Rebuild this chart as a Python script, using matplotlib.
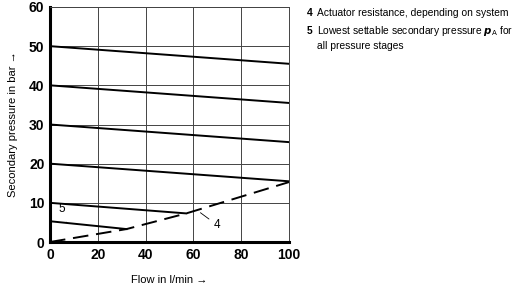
import matplotlib.pyplot as plt

# pressure stage characteristics (flow -> secondary pressure)
flow_full = [0, 100]
stage_50 = [50, 45.5]
stage_40 = [40, 35.5]
stage_30 = [30, 25.5]
stage_20 = [20, 15.5]
flow_10 = [0, 57]
stage_10 = [10, 7.3]
flow_5 = [0, 32]
stage_5 = [5.3, 3.3]

# curve 4: actuator resistance
flow_4 = [0, 32, 57, 100]
press_4 = [0, 3.3, 7.3, 15.3]

xticks = [0, 20, 40, 60, 80, 100]
yticks = [0, 10, 20, 30, 40, 50, 60]

plt.rcParams['font.family'] = ['Liberation Sans', 'DejaVu Sans']

fig = plt.figure(figsize=(5.21, 2.91), dpi=100)
ax = fig.add_axes([50/521, 1-242/291, 239/521, 235/291])

for ys, xs in [(stage_50, flow_full), (stage_40, flow_full), (stage_30, flow_full),
               (stage_20, flow_full), (stage_10, flow_10), (stage_5, flow_5)]:
    ax.plot(xs, ys, color='black', lw=1.4, zorder=3)
ax.plot(flow_4, press_4, color='black', lw=1.4, ls=(0, (8, 4)), zorder=3)

ax.annotate('5', xy=(7, 5.0), xytext=(5, 8.3), fontsize=8.5, ha='center', va='center',
            arrowprops=dict(arrowstyle='-', lw=0.6, color='black', shrinkA=3, shrinkB=0))
ax.annotate('4', xy=(62, 7.9), xytext=(70, 4.3), fontsize=8.5, ha='center', va='center',
            arrowprops=dict(arrowstyle='-', lw=0.6, color='black'))

ax.set_xlim(0, 100)
ax.set_ylim(0, 60)
ax.set_xticks(xticks)
ax.set_yticks(yticks)
ax.grid(True, color='#444444', lw=0.7)
ax.set_axisbelow(True)
for lab in ax.get_xticklabels() + ax.get_yticklabels():
    lab.set_fontweight('bold')
    lab.set_fontsize(10)
ax.tick_params(length=0, pad=4)
ax.spines['left'].set_linewidth(2.2)
ax.spines['bottom'].set_linewidth(2.2)
for side in ['top', 'right']:
    ax.spines[side].set_color('#444444')
    ax.spines[side].set_linewidth(0.7)

ax.set_xlabel('Flow in l/min →', fontsize=8, labelpad=10)
ax.set_ylabel('Secondary pressure in bar →', fontsize=8, labelpad=8)

fs = 7.4
fig.text(307/521, 1-13/291, '4', fontsize=fs, fontweight='bold', va='center')
fig.text(317/521, 1-13/291, 'Actuator resistance, depending on system', fontsize=fs, va='center')
fig.text(307/521, 1-31/291, '5', fontsize=fs, fontweight='bold', va='center')
fig.text(317/521, 1-31/291, r'Lowest settable secondary pressure $\boldsymbol{p}_{\mathrm{A}}$ for',
         fontsize=fs, va='center')
fig.text(317/521, 1-46/291, 'all pressure stages', fontsize=fs, va='center')

fig.savefig('out.png', dpi=100)
